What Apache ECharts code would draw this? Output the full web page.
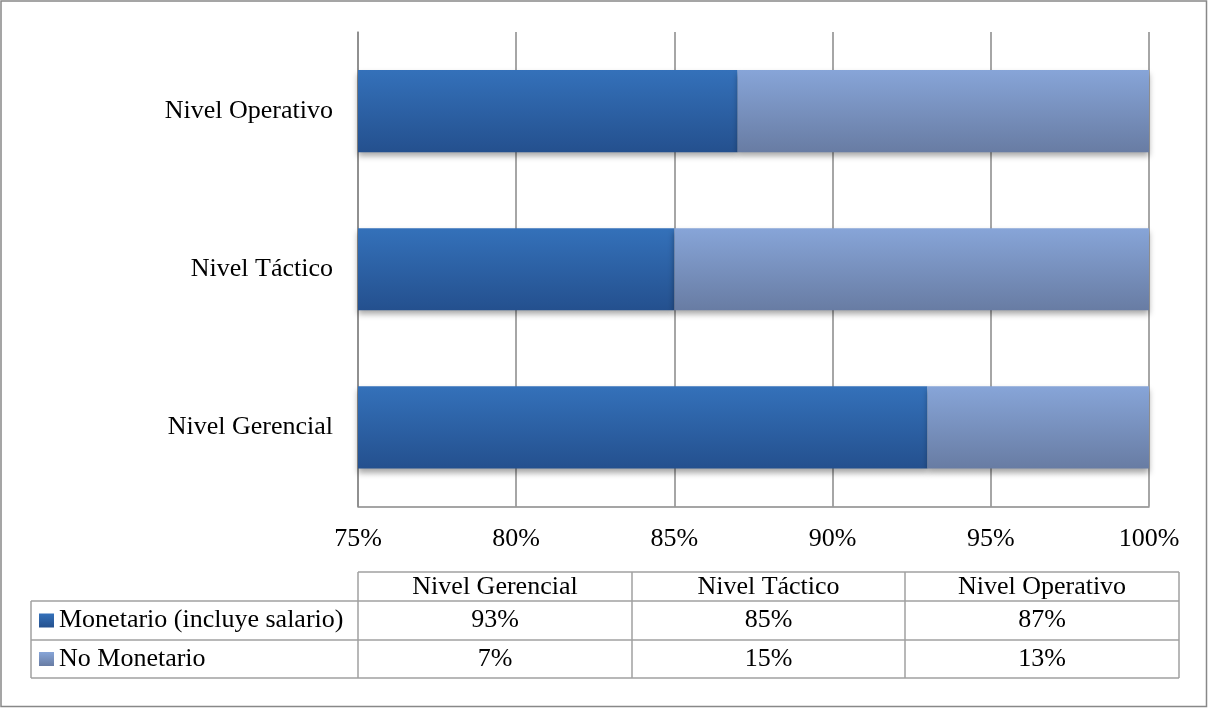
<!DOCTYPE html>
<html>
<head>
<meta charset="utf-8">
<script src="https://cdn.jsdelivr.net/npm/echarts@6/dist/echarts.min.js"></script>
<style>
html,body{margin:0;padding:0;background:#fff;}
#chart{width:1208px;height:708px;}
</style>
</head>
<body>
<div id="chart"></div>
<script>
const categories = ['Nivel Gerencial', 'Nivel Táctico', 'Nivel Operativo'];
const seriesNames = ['Monetario (incluye salario)', 'No Monetario'];
const monetario = [93, 85, 87];
const noMonetario = [7, 15, 13];
const xTicks = [75, 80, 85, 90, 95, 100];

const FONT = '"Liberation Serif", "Times New Roman", serif';
const FS = 26;
const darkGrad = new echarts.graphic.LinearGradient(0, 0, 0, 1, [
  {offset: 0, color: '#3471ba'}, {offset: 1, color: '#24508e'}]);
const lightGrad = new echarts.graphic.LinearGradient(0, 0, 0, 1, [
  {offset: 0, color: '#87a5d8'}, {offset: 1, color: '#687ca3'}]);

const chart = echarts.init(document.getElementById('chart'), null, {renderer: 'canvas'});

// Data table built from arrays
const tableLeft = 31, colX = [358, 632, 905, 1179];
const rowY = [572, 601, 640, 678];
const lineColor = '#a0a0a0';
const g = [];
function line(x1, y1, x2, y2) {
  g.push({type: 'line', shape: {x1, y1, x2, y2}, style: {stroke: lineColor, lineWidth: 1.5}, silent: true});
}
function text(t, x, y, align) {
  g.push({type: 'text', x, y, style: {text: t, fill: '#000', fontSize: FS, fontFamily: FONT, align: align || 'center', verticalAlign: 'middle'}, silent: true});
}
// outer border
g.push({type: 'rect', shape: {x: 1, y: 1, width: 1205.5, height: 705.5}, style: {fill: 'none', stroke: '#888', lineWidth: 1.5}, silent: true});
// horizontal lines
line(colX[0], rowY[0], colX[3], rowY[0]);
line(tableLeft, rowY[1], colX[3], rowY[1]);
line(tableLeft, rowY[2], colX[3], rowY[2]);
line(tableLeft, rowY[3], colX[3], rowY[3]);
// vertical lines
line(tableLeft, rowY[1], tableLeft, rowY[3]);
colX.forEach(x => line(x, rowY[0], x, rowY[3]));
// header
categories.forEach((c, i) => text(c, (colX[i] + colX[i + 1]) / 2, (rowY[0] + rowY[1]) / 2 + 1));
const tableRows = [monetario, noMonetario];
const swatches = [darkGrad, lightGrad];
tableRows.forEach((vals, r) => {
  const cy = (rowY[r + 1] + rowY[r + 2]) / 2;
  g.push({type: 'rect', shape: {x: 39, y: cy - 7, width: 15, height: 14}, style: {fill: swatches[r]}, silent: true});
  text(seriesNames[r], 59, cy, 'left');
  vals.forEach((v, i) => text(v + '%', (colX[i] + colX[i + 1]) / 2, cy));
});

const barShadow = {shadowColor: 'rgba(0,0,0,0.35)', shadowBlur: 6, shadowOffsetY: 4};

chart.setOption({
  animation: false,
  backgroundColor: '#fff',
  grid: {left: 358, right: 59, top: 32, height: 474.5, containLabel: false},
  xAxis: {
    type: 'value', min: xTicks[0], max: xTicks[xTicks.length - 1], interval: 5,
    axisLine: {show: true, lineStyle: {color: '#888', width: 1.5}},
    axisTick: {show: false},
    axisLabel: {formatter: '{value}%', color: '#000', fontSize: FS, fontFamily: FONT, margin: 20},
    splitLine: {show: true, lineStyle: {color: '#888', width: 1.5}}
  },
  yAxis: {
    type: 'category', data: categories,
    axisLine: {show: true, lineStyle: {color: '#888', width: 1.5}},
    axisTick: {show: false},
    axisLabel: {color: '#000', fontSize: FS, fontFamily: FONT, margin: 25}
  },
  series: [
    {name: seriesNames[0], type: 'bar', stack: 'a', data: monetario, barWidth: '52%',
      itemStyle: Object.assign({color: darkGrad}, barShadow)},
    {name: seriesNames[1], type: 'bar', stack: 'a', data: noMonetario, barWidth: '52%',
      itemStyle: Object.assign({color: lightGrad}, barShadow)}
  ],
  graphic: g
});
</script>
</body>
</html>
